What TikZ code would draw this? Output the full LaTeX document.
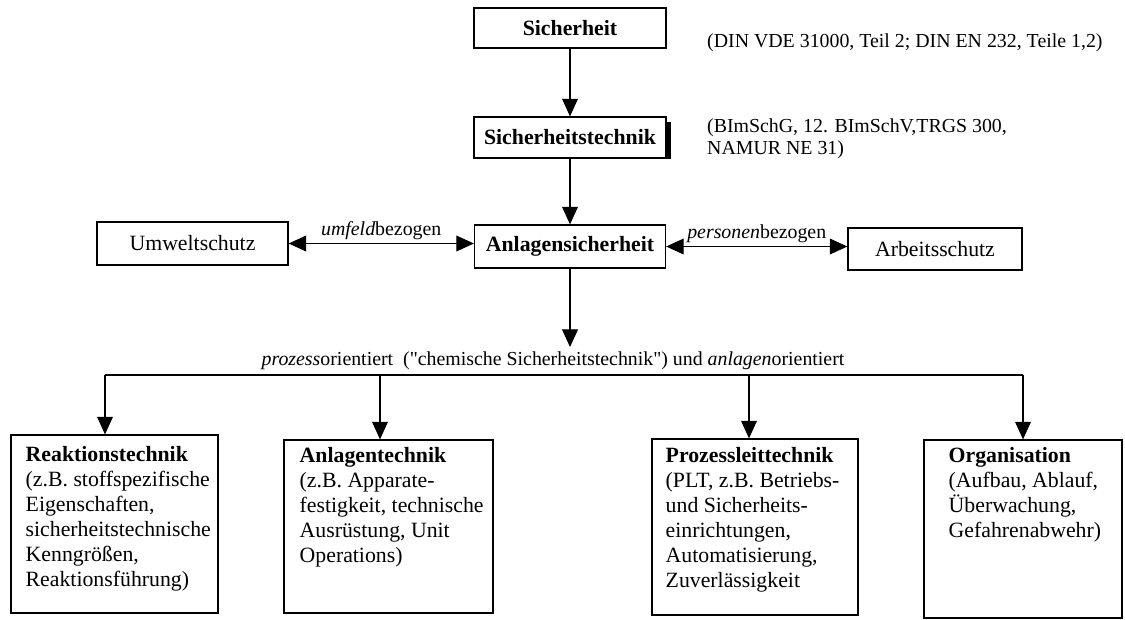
\documentclass[tikz,border=0pt]{standalone}
\usepackage{fontspec}
\setmainfont{Liberation Serif}[Ligatures=TeXOff]
\usepackage{tikz}
\usetikzlibrary{arrows.meta,positioning,calc}

\begin{document}
\begin{tikzpicture}[x=0.02cm,y=-0.02cm,
    kasten/.style={draw,line width=0.75pt,inner sep=0pt,font=\fontsize{12.4}{14}\selectfont},
    pfeil/.style={-{Triangle[length=10pt,width=9pt]},line width=0.6pt},
    dpfeil/.style={{Triangle[length=10pt,width=9pt]}-{Triangle[length=10pt,width=9pt]},line width=0.6pt},
    notiz/.style={font=\fontsize{11.3}{12.6}\selectfont,align=left},
    inhalt/.style={anchor=north west,align=left,inner sep=0pt,font=\fontsize{12.4}{14.2}\selectfont}]
    % 1 Einheit = 1 px der Vorlage, y nach unten
    \useasboundingbox (0,0) rectangle (1125,619);
    \node[kasten,minimum width=3.84cm,minimum height=0.8cm] (sich) at (570,28) {\bfseries Sicherheit};
    \node[kasten,minimum width=3.84cm,minimum height=0.82cm] (sitech) at (570,137.5) {\bfseries Sicherheitstechnik};
    \fill ($(sitech.north east)+(0,6)$) rectangle ($(sitech.south east)+(4,0)$);
    \node[kasten,minimum width=3.82cm,minimum height=0.86cm] (anl) at (570,246.5) {\bfseries Anlagensicherheit};
    \node[kasten,minimum width=3.82cm,minimum height=0.86cm] (umw) at (192.5,243.5) {Umweltschutz};
    \node[kasten,minimum width=3.48cm,minimum height=0.84cm] (arb) at (935,249) {Arbeitsschutz};
    \node[notiz,anchor=west] (din) at (701,43) {(DIN VDE 31000, Teil 2; DIN EN 232, Teile 1,2)};
    \node[notiz,anchor=west] (bim) at (701,139) {(BImSchG, 12. BImSchV,TRGS 300,\\NAMUR NE 31)};
    \draw[pfeil] (sich) -- (sitech);
    \draw[pfeil] (sitech) -- (anl);
    \draw[dpfeil] (umw.east) -- (umw.east -| anl.west)
      node[midway,above,notiz,inner sep=2pt] (lumf) {\textit{umfeld}bezogen};
    \draw[dpfeil] (anl.east) -- (anl.east -| arb.west)
      node[midway,above,notiz,inner sep=2pt] (lpers) {\textit{personen}bezogen};
    % Verteilung nach unten
    \coordinate (ziel) at (570,347);
    \draw[pfeil] (anl) -- (ziel);
    \node[notiz] (orient) at (553,361) {\textit{prozess}orientiert~ ("chemische Sicherheitstechnik") und \textit{anlagen}orientiert};
    \coordinate (h1) at (105,375);
    \coordinate (h2) at (380,375);
    \coordinate (h3) at (749,375);
    \coordinate (h4) at (1023,375);
    \draw[line width=0.6pt] (h1) -- (h4);
    \node[kasten,minimum width=4.14cm,minimum height=3.56cm] (reak) at (114.5,524) {};
    \node[kasten,minimum width=4.18cm,minimum height=3.46cm] (anlt) at (388.5,526.5) {};
    \node[kasten,minimum width=4.12cm,minimum height=3.52cm] (plt) at (755,527) {};
    \node[kasten,minimum width=3.96cm,minimum height=3.56cm] (org) at (1023,529) {};
    \draw[pfeil] (h1) -- (h1 |- reak.north);
    \draw[pfeil] (h2) -- (h2 |- anlt.north);
    \draw[pfeil] (h3) -- (h3 |- plt.north);
    \draw[pfeil] (h4) -- (h4 |- org.north);
    \node[inhalt] (reaktxt) at ($(reak.north west)+(15,12)$) {\textbf{Reaktionstechnik}\\(z.B. stoffspezifische\\Eigenschaften,\\sicherheitstechnische\\Kenngrößen,\\Reaktionsführung)};
    \node[inhalt] (anlttxt) at ($(anlt.north west)+(16,8)$) {\textbf{Anlagentechnik}\\(z.B. Apparate-\\festigkeit, technische\\Ausrüstung, Unit\\Operations)};
    \node[inhalt] (plttxt) at ($(plt.north west)+(14,9)$) {\textbf{Prozessleittechnik}\\(PLT, z.B. Betriebs-\\und Sicherheits-\\einrichtungen,\\Automatisierung,\\Zuverlässigkeit};
    \node[inhalt] (orgtxt) at ($(org.north west)+(25,8)$) {\textbf{Organisation}\\(Aufbau, Ablauf,\\Überwachung,\\Gefahrenabwehr)};
\end{tikzpicture}
\end{document}
